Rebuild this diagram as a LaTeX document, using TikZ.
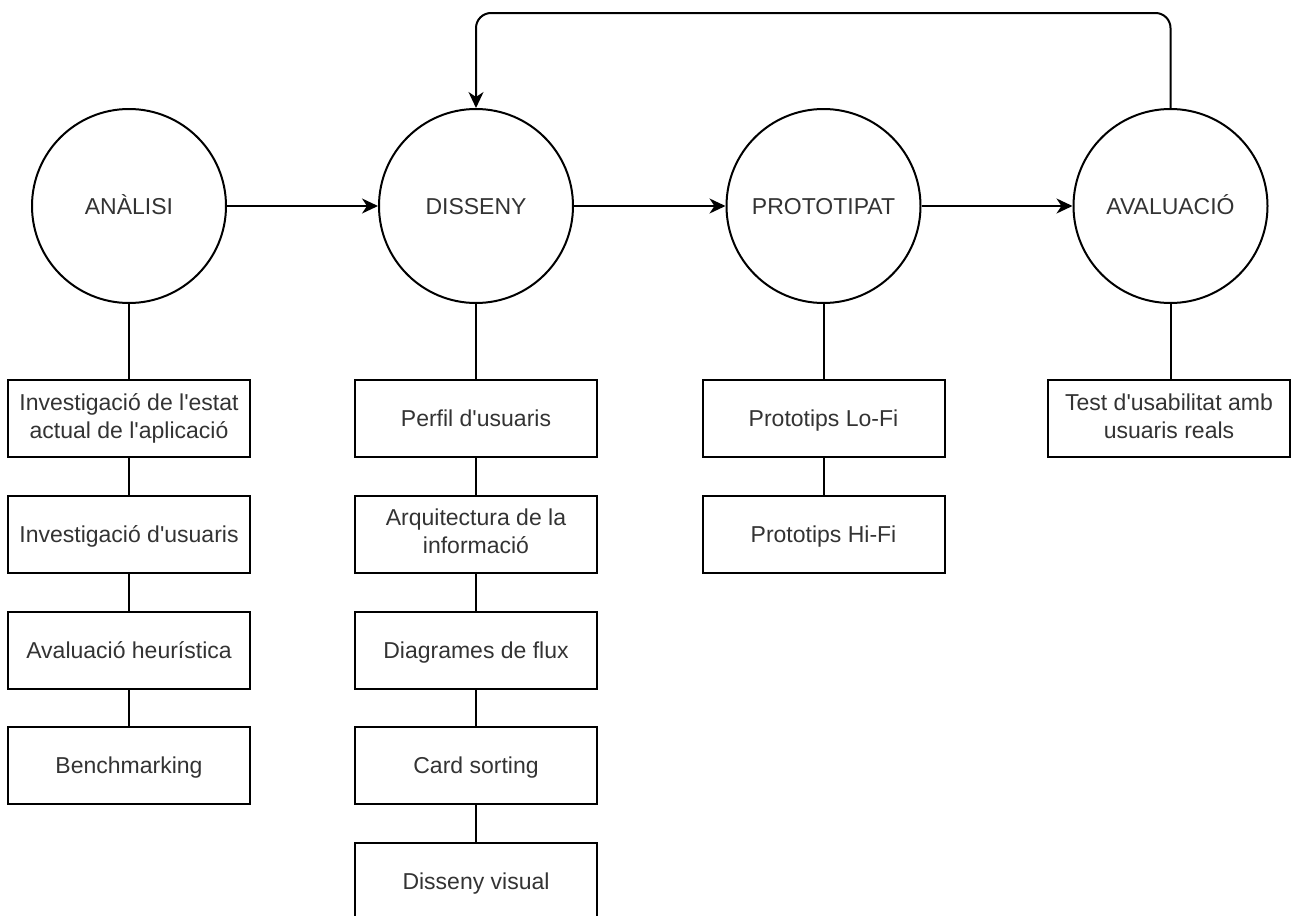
\documentclass[tikz,border=0pt]{standalone}
\usepackage{fontspec}
\setmainfont{Liberation Sans}
\usetikzlibrary{arrows.meta}
\definecolor{txt}{HTML}{333333}
\newcommand{\ap}{\textquotesingle}
\newcommand{\topstrut}{\rule{0pt}{22pt}}
\newcommand{\botstrut}{\rule[-5.6pt]{0pt}{5.6pt}}
\begin{document}
\begin{tikzpicture}[x=1pt,y=-1pt,
  every node/.style={font=\fontsize{23}{28}\selectfont, text=txt},
  phase/.style={circle, draw=black, line width=2pt, minimum size=194pt, inner sep=0pt,
    execute at begin node=\topstrut, execute at end node=\botstrut},
  task/.style={rectangle, draw=black, line width=2pt, minimum width=242pt, minimum height=77pt, inner sep=2pt, align=center,
    execute at begin node=\topstrut, execute at end node=\botstrut},
  link/.style={draw=black, line width=2pt},
  arr/.style={link, -{Stealth[length=16pt,width=15pt,inset=5pt]}}
]
\useasboundingbox (0,0) rectangle (1291,916);
\node[phase] (A) at (129,206) {ANÀLISI};
\node[phase] (D) at (476,206) {DISSENY};
\node[phase] (P) at (823.5,206) {PROTOTIPAT};
\node[phase] (V) at (1170.5,206) {AVALUACIÓ};

\node[task] (a1) at (129,418.5) {Investigació de l\ap estat\\actual de l\ap aplicació};
\node[task] (a2) at (129,534.25) {Investigació d\ap usuaris};
\node[task] (a3) at (129,650) {Avaluació heurística};
\node[task] (a4) at (129,765.75) {Benchmarking};

\node[task] (d1) at (476,418.5) {Perfil d\ap usuaris};
\node[task] (d2) at (476,534.25) {Arquitectura de la\\informació};
\node[task] (d3) at (476,650) {Diagrames de flux};
\node[task] (d4) at (476,765.75) {Card sorting};
\node[task] (d5) at (476,881.5) {Disseny visual};

\node[task] (p1) at (823.5,418.5) {Prototips Lo-Fi};
\node[task] (p2) at (823.5,534.25) {Prototips Hi-Fi};

\node[task] (v1) at (1169,418.5) {Test d\ap usabilitat amb\\usuaris reals};

\draw[arr] (A) -- (D);
\draw[arr] (D) -- (P);
\draw[arr] (P) -- (V);

\coordinate (top) at (0,13);
\draw[arr, rounded corners=15pt] (V.north) -- (V.north |- top) -- (D.north |- top) -- (D.north);

\draw[link] (A) -- (a1);
\draw[link] (a1) -- (a2);
\draw[link] (a2) -- (a3);
\draw[link] (a3) -- (a4);

\draw[link] (D) -- (d1);
\draw[link] (d1) -- (d2);
\draw[link] (d2) -- (d3);
\draw[link] (d3) -- (d4);
\draw[link] (d4) -- (d5);

\draw[link] (P) -- (p1);
\draw[link] (p1) -- (p2);

\draw[link] (V.south) -- (v1.north -| V.south);
\end{tikzpicture}
\end{document}
